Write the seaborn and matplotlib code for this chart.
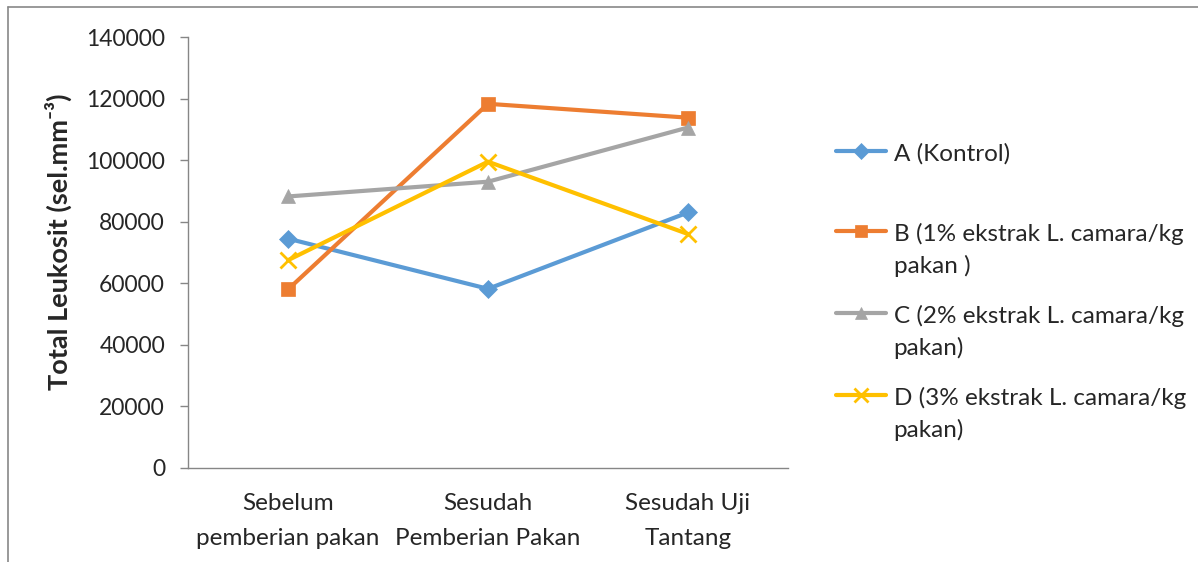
import pandas as pd
import matplotlib.pyplot as plt
import seaborn as sns
from matplotlib.lines import Line2D

tahap = ['Sebelum\npemberian pakan', 'Sesudah\nPemberian Pakan', 'Sesudah Uji\nTantang']
perlakuan = ['A (Kontrol)\n ', 'B (1% ekstrak L. camara/kg\npakan )',
             'C (2% ekstrak L. camara/kg\npakan)', 'D (3% ekstrak L. camara/kg\npakan)']
nilai_a = [74500, 58200, 83000]
nilai_b = [58000, 118300, 113800]
nilai_c = [88200, 93000, 110600]
nilai_d = [67500, 99500, 76000]

warna = ['#5B9BD5', '#ED7D31', '#A5A5A5', '#FFC000']
penanda = ['D', 's', '^', 'x']
ukuran = [9, 10, 10, 11]

rows = []
for p, vals in zip(perlakuan, [nilai_a, nilai_b, nilai_c, nilai_d]):
    for t, v in zip(tahap, vals):
        rows.append({'tahap': t, 'leukosit': v, 'perlakuan': p})
df = pd.DataFrame(rows)

sns.set_style('white')
plt.rcParams['font.family'] = ['Lato', 'DejaVu Sans']

fig = plt.figure(figsize=(11.98, 5.62), dpi=100)
ax = fig.add_axes([188 / 1198, 1 - 468 / 562, 600 / 1198, 431 / 562])

for p, c, m, s in zip(perlakuan, warna, penanda, ukuran):
    sub = df[df['perlakuan'] == p]
    sns.lineplot(data=sub, x='tahap', y='leukosit', color=c, marker=m, markersize=s,
                 markeredgecolor=c, markerfacecolor=c,
                 markeredgewidth=2 if m == 'x' else 0.5,
                 linewidth=3, sort=False, ax=ax, label=p)

ax.set_xlim(-0.5, 2.5)
ax.set_ylim(0, 140000)
ax.set_yticks(range(0, 140001, 20000))
ax.set_xlabel('')
ax.set_ylabel('Total Leukosit (sel.mm⁻³)', fontsize=19.5, fontweight='bold')
ax.yaxis.set_label_coords(-0.193, 0.524)
ax.tick_params(axis='y', length=6, width=1, color='#868686', labelsize=16.5, pad=10.5, left=True)
ax.tick_params(axis='x', length=0, labelsize=17.5, pad=18)
for lbl in ax.get_xticklabels():
    lbl.set_linespacing(1.8)
for s in ['top', 'right']:
    ax.spines[s].set_visible(False)
for s in ['left', 'bottom']:
    ax.spines[s].set_color('#868686')
    ax.spines[s].set_linewidth(1)

ax.get_legend().remove()
handles = ax.lines[:4]
leg = fig.legend(handles, perlakuan, loc='upper left', bbox_to_anchor=(826 / 1198, 1 - 133 / 562),
                 frameon=False, fontsize=17.5, handlelength=2.05, handletextpad=0.33,
                 labelspacing=1.15, borderaxespad=0, markerscale=0.9)
for t in leg.get_texts():
    t.set_linespacing(1.55)
for hp in leg._legend_handle_box.get_children()[0].get_children():
    hp.align = 'top'

# chart border (top and left edges only visible)
fig.add_artist(Line2D([8 / 1198, 1], [1 - 7 / 562, 1 - 7 / 562], color='#888888', lw=1.2,
                      transform=fig.transFigure))
fig.add_artist(Line2D([8 / 1198, 8 / 1198], [0, 1 - 7 / 562], color='#888888', lw=1.2,
                      transform=fig.transFigure))

fig.savefig('out.png', dpi=100)
